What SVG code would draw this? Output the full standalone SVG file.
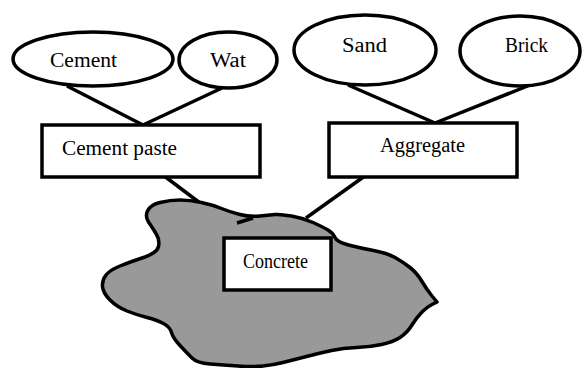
<svg xmlns="http://www.w3.org/2000/svg" width="585" height="368" viewBox="0 0 585 368">
<style>
.shape{fill:#fff;stroke:#000;stroke-width:3.5}
.blob{fill:#999;stroke:#000;stroke-width:3.5;stroke-linejoin:round}
.conn{stroke:#000;stroke-width:3.5;fill:none;stroke-linecap:butt}
.lbl{font-family:"Liberation Serif","Times New Roman",serif;font-size:20px;fill:#000}
</style>
<rect width="585" height="368" fill="#fff"/>
<g id="connectors">
<line class="conn" x1="67" y1="86" x2="143" y2="125"/>
<line class="conn" x1="222" y1="88" x2="143" y2="125"/>
<line class="conn" x1="348" y1="85" x2="435" y2="123"/>
<line class="conn" x1="530" y1="85" x2="435" y2="123"/>
<line class="conn" x1="147" y1="163" x2="200" y2="203"/>
<line class="conn" x1="383" y1="163" x2="306" y2="218"/>
</g>
<g id="concrete-blob">
<path class="blob" d="M147.5,211 Q150,205 160,202.5 Q170,200 180,200 Q190,200 201.5,202.5 Q213,205 221.5,208.5 Q230,212 240,214.5 Q250,217 260,216 Q270,215 275,214.5 Q280,214 291.5,216 Q303,218 313,222.5 Q323,227 328,230 Q333,233 335,237.5 Q337,242 348.5,245 Q360,248 373.5,250.5 Q387,253 395,257.5 Q403,262 410,267.5 Q417,273 422,281.5 Q427,290 432,296 L437,302 L432,304.5 Q427,307 422,312 Q417,317 412,325 Q407,333 400,337.5 Q393,342 381.5,344.5 Q370,347 356.5,347.5 Q343,348 331.5,350.5 Q320,353 306.5,356.5 Q293,360 283,362.5 Q273,365 263,366 Q253,367 238,366 Q223,365 210,364 Q197,363 192,358 Q187,353 180,345.5 Q173,338 171.5,332.5 Q170,327 163.5,323.5 Q157,320 147,317.5 Q137,315 127,311 Q117,307 110,300 Q103,293 102.5,286.5 Q102,280 106,275 Q110,270 120,266 Q130,262 143.5,257.5 Q157,253 158.5,246.5 Q160,240 156,233.5 Q152,227 148.5,222 Q145,217 147.5,211 Z"/>
<line class="conn" x1="237" y1="223" x2="253" y2="218"/>
</g>
<g id="cement">
<ellipse class="shape" cx="93" cy="59" rx="80" ry="27"/>
<text class="lbl" x="50" y="67" textLength="67" lengthAdjust="spacingAndGlyphs">Cement</text>
</g>
<g id="water">
<ellipse class="shape" cx="228" cy="60" rx="49" ry="28"/>
<text class="lbl" x="210" y="67" textLength="36" lengthAdjust="spacingAndGlyphs">Wat</text>
</g>
<g id="sand">
<ellipse class="shape" cx="365" cy="50" rx="71" ry="35"/>
<text class="lbl" x="342" y="52" textLength="45" lengthAdjust="spacingAndGlyphs">Sand</text>
</g>
<g id="brick">
<ellipse class="shape" cx="520" cy="51" rx="60" ry="35"/>
<text class="lbl" x="505" y="52" textLength="43" lengthAdjust="spacingAndGlyphs">Brick</text>
</g>
<g id="cement-paste">
<rect class="shape" x="42" y="125" width="218" height="52"/>
<text class="lbl" x="62" y="155" textLength="115" lengthAdjust="spacingAndGlyphs">Cement paste</text>
</g>
<g id="aggregate">
<rect class="shape" x="329" y="123" width="188" height="54"/>
<text class="lbl" x="380" y="152" textLength="85" lengthAdjust="spacingAndGlyphs">Aggregate</text>
</g>
<g id="concrete">
<rect class="shape" x="224" y="238" width="107" height="52"/>
<text class="lbl" x="243" y="268" textLength="65" lengthAdjust="spacingAndGlyphs">Concrete</text>
</g>
</svg>
